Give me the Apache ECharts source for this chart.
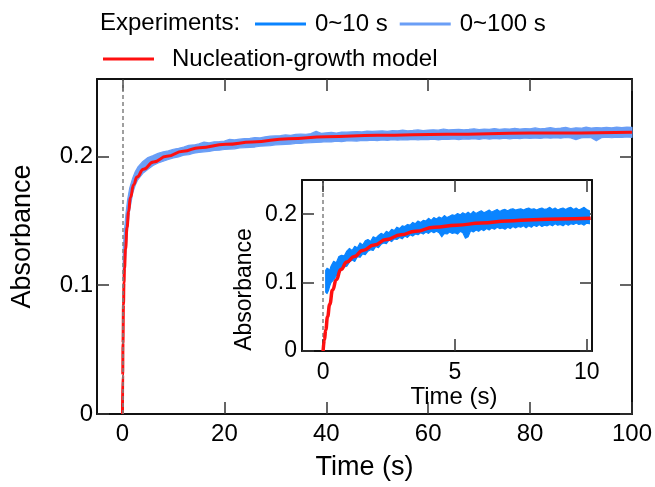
<!DOCTYPE html>
<html><head><meta charset="utf-8">
<script src="https://cdn.jsdelivr.net/npm/echarts@6/dist/echarts.min.js"></script>
<style>html,body{margin:0;padding:0;background:#fff}#c{width:655px;height:487px}</style>
</head><body><div id="c"></div>
<script>
// ---------- data ----------
const mainXTicks = [0, 20, 40, 60, 80, 100];
const mainYTicks = [0, 0.1, 0.2];
const insetXTicks = [0, 5, 10];
const insetYTicks = [0, 0.1, 0.2];

// Nucleation-growth model, 0~100 s
const mainModelT = [0, 0.05, 0.1, 0.2, 0.3, 0.4, 0.6, 0.9, 1.2, 1.55, 2.2, 2.85, 4.1, 6.1, 8.7, 11.9, 15.1, 20.3, 25.5, 32.6, 40, 50, 63.7, 80, 100];
const mainModelA = [0, 0.03, 0.055, 0.085, 0.102, 0.113, 0.128, 0.145, 0.157, 0.168, 0.178, 0.184, 0.190, 0.1956, 0.200, 0.204, 0.2067, 0.2093, 0.2111, 0.2137, 0.2152, 0.2163, 0.2172, 0.2180, 0.2187];

// Experiment 0~100 s (noise band: lower / upper envelope)
const mainExpT = [0.15, 0.4, 0.7, 1, 1.4, 2, 2.5, 3, 4, 5, 6, 7, 8, 9, 10,
  11, 12, 13, 14, 15, 16, 17, 18, 19, 20, 21, 22, 23, 24, 25, 26, 27, 28, 29, 30,
  31, 32, 33, 34, 35, 36, 37, 38, 39, 40, 41, 42, 43, 44, 45, 46, 47, 48, 49, 50,
  51, 52, 53, 54, 55, 56, 57, 58, 59, 60, 61, 62, 63, 64, 65, 66, 67, 68, 69, 70,
  71, 72, 73, 74, 75, 76, 77, 78, 79, 80, 81, 82, 83, 84, 85, 86, 87, 88, 89, 90,
  91, 92, 93, 94, 95, 96, 97, 98, 99, 100];
const mainExpHigh = [0.128, 0.143, 0.156, 0.166, 0.175, 0.183, 0.188, 0.1915, 0.196, 0.199, 0.2005, 0.2023, 0.2035, 0.2042, 0.2055,
  0.2062, 0.2071, 0.2085, 0.2088, 0.2096, 0.2110, 0.2104, 0.2113, 0.2115, 0.2119,
  0.2131, 0.2128, 0.2133, 0.2138, 0.2139, 0.2146, 0.2143, 0.2151, 0.2156, 0.2158,
  0.2160, 0.2166, 0.2163, 0.2170, 0.2172, 0.2171, 0.2176, 0.2195, 0.2178, 0.2182,
  0.2185, 0.2181, 0.2188, 0.2187, 0.2190, 0.2192, 0.2189, 0.2196, 0.2193, 0.2195,
  0.2197, 0.2193, 0.2199, 0.2198, 0.2203, 0.2198, 0.2201, 0.2205, 0.2200, 0.2204,
  0.2206, 0.2203, 0.2212, 0.2205, 0.2208, 0.2210, 0.2206, 0.2209, 0.2214, 0.2207,
  0.2211, 0.2209, 0.2216, 0.2210, 0.2214, 0.2212, 0.2218, 0.2211, 0.2215, 0.2213,
  0.2220, 0.2214, 0.2217, 0.2222, 0.2215, 0.2219, 0.2224, 0.2216, 0.2221, 0.2218,
  0.2226, 0.2219, 0.2223, 0.2220, 0.2225, 0.2221, 0.2227, 0.2222, 0.2226, 0.2224];
const mainExpLow = [0.105, 0.108, 0.127, 0.143, 0.158, 0.1715, 0.1775, 0.1818, 0.1868, 0.1900, 0.1928, 0.1948, 0.1962, 0.1975, 0.1988,
  0.1995, 0.2008, 0.2012, 0.2024, 0.2030, 0.2035, 0.2038, 0.2046, 0.2047, 0.2053,
  0.2056, 0.2058, 0.2066, 0.2067, 0.2070, 0.2072, 0.2078, 0.2080, 0.2083, 0.2089,
  0.2090, 0.2093, 0.2095, 0.2101, 0.2100, 0.2105, 0.2106, 0.2108, 0.2110, 0.2114,
  0.2112, 0.2117, 0.2114, 0.2119, 0.2120, 0.2118, 0.2124, 0.2121, 0.2125, 0.2122,
  0.2127, 0.2124, 0.2129, 0.2126, 0.2130, 0.2127, 0.2131, 0.2128, 0.2132, 0.2129,
  0.2133, 0.2127, 0.2134, 0.2131, 0.2135, 0.2130, 0.2136, 0.2133, 0.2137, 0.2132,
  0.2138, 0.2134, 0.2139, 0.2135, 0.2140, 0.2136, 0.2141, 0.2137, 0.2142, 0.2138,
  0.2143, 0.2139, 0.2144, 0.2140, 0.2145, 0.2141, 0.2146, 0.2142, 0.2130, 0.2143,
  0.2147, 0.2144, 0.2120, 0.2145, 0.2148, 0.2144, 0.2149, 0.2146, 0.2150, 0.2147];

// Nucleation-growth model, inset 0~10 s
const insetModelT = [0, 0.05, 0.1, 0.17, 0.25, 0.36, 0.5, 0.67, 0.9, 1.18, 1.5, 1.94, 2.4, 2.95, 3.5, 4.22, 5.06, 6, 7, 7.97, 9, 10.15];
const insetModelA = [0, 0.016, 0.031, 0.05, 0.068, 0.089, 0.104, 0.119, 0.13, 0.138, 0.147, 0.155, 0.163, 0.170, 0.175, 0.181, 0.184, 0.187, 0.190, 0.192, 0.193, 0.194];

// Experiment 0~10 s (noise band: lower / upper envelope)
const insetExpT = [0.1, 0.15, 0.2, 0.25, 0.3,
  0.4, 0.5, 0.6, 0.7, 0.8, 0.9,
  1.0, 1.1, 1.2, 1.3, 1.4, 1.5, 1.6, 1.7, 1.8, 1.9,
  2.0, 2.1, 2.2, 2.3, 2.4, 2.5, 2.6, 2.7, 2.8, 2.9,
  3.0, 3.1, 3.2, 3.3, 3.4, 3.5, 3.6, 3.7, 3.8, 3.9,
  4.0, 4.1, 4.2, 4.3, 4.4, 4.5, 4.6, 4.7, 4.8, 4.9,
  5.0, 5.1, 5.2, 5.3, 5.4, 5.5, 5.6, 5.7, 5.8, 5.9,
  6.0, 6.1, 6.2, 6.3, 6.4, 6.5, 6.6, 6.7, 6.8, 6.9,
  7.0, 7.1, 7.2, 7.3, 7.4, 7.5, 7.6, 7.7, 7.8, 7.9,
  8.0, 8.1, 8.2, 8.3, 8.4, 8.5, 8.6, 8.7, 8.8, 8.9,
  9.0, 9.1, 9.2, 9.3, 9.4, 9.5, 9.6, 9.7, 9.8, 9.9,
  10.0, 10.1];
const insetExpHigh = [0.118, 0.121, 0.120, 0.117, 0.124,
  0.131, 0.129, 0.138, 0.140, 0.139, 0.146,
  0.150, 0.147, 0.153, 0.151, 0.158, 0.155, 0.161, 0.163, 0.160, 0.167,
  0.165, 0.169, 0.172, 0.170, 0.175, 0.173, 0.178, 0.176, 0.181, 0.179,
  0.183, 0.182, 0.185, 0.184, 0.188, 0.186, 0.190, 0.188, 0.191, 0.190,
  0.194, 0.191, 0.195, 0.193, 0.196, 0.194, 0.198, 0.195, 0.197, 0.199,
  0.198, 0.201, 0.199, 0.202, 0.200, 0.203, 0.200, 0.204, 0.201, 0.203,
  0.205, 0.202, 0.204, 0.206, 0.203, 0.205, 0.207, 0.204, 0.206, 0.207,
  0.205, 0.207, 0.208, 0.206, 0.207, 0.208, 0.206, 0.208, 0.209, 0.207,
  0.208, 0.206, 0.208, 0.209, 0.207, 0.208, 0.210, 0.207, 0.209, 0.206,
  0.208, 0.209, 0.207, 0.209, 0.210, 0.207, 0.209, 0.206, 0.208, 0.210,
  0.207, 0.205];
const insetExpLow = [0.086, 0.084, 0.088, 0.095, 0.100,
  0.104, 0.110, 0.113, 0.119, 0.123, 0.124,
  0.130, 0.133, 0.131, 0.138, 0.137, 0.142, 0.141, 0.146, 0.148, 0.147,
  0.153, 0.151, 0.156, 0.158, 0.157, 0.162, 0.160, 0.164, 0.163, 0.166,
  0.164, 0.168, 0.166, 0.170, 0.168, 0.171, 0.170, 0.173, 0.171, 0.174,
  0.172, 0.175, 0.173, 0.175, 0.173, 0.167, 0.172, 0.171, 0.174, 0.172,
  0.173, 0.171, 0.175, 0.173, 0.165, 0.167, 0.176, 0.174, 0.177, 0.175,
  0.178, 0.176, 0.179, 0.177, 0.180, 0.178, 0.181, 0.179, 0.180, 0.178,
  0.181, 0.179, 0.182, 0.180, 0.182, 0.181, 0.183, 0.180, 0.183, 0.181,
  0.184, 0.182, 0.185, 0.182, 0.184, 0.183, 0.185, 0.183, 0.186, 0.184,
  0.185, 0.183, 0.186, 0.184, 0.186, 0.185, 0.187, 0.185, 0.186, 0.184,
  0.187, 0.186];

// ---------- styling ----------
const FONT = '"Liberation Sans", Arial, Helvetica, sans-serif';
const C10 = '#0a84ff';
const C100 = '#6a9ef6';
const RED = '#ff1010';
const AX = '#111';

const pairs = (xs, ys) => xs.map((x, i) => [x, ys[i]]);
const yFmt = v => (v === 0 ? '0' : v.toFixed(1));

function xAxisDef(grid, pos, min, max, ticks, opts) {
  return {
    type: 'value', gridIndex: grid, position: pos, min: min, max: max,
    splitLine: { show: false },
    axisLine: { show: true, onZero: false, lineStyle: { color: AX, width: 2 } },
    axisTick: { show: true, inside: true, length: 12, customValues: ticks, lineStyle: { color: '#333', width: 1.5 } },
    axisLabel: opts.label ? { show: true, customValues: ticks, fontSize: opts.fs, margin: opts.margin, color: '#000', fontFamily: FONT } : { show: false },
    name: opts.name || '', nameLocation: 'middle', nameGap: opts.nameGap || 0,
    nameTextStyle: { fontSize: opts.nfs || 12, color: '#000', fontFamily: FONT, padding: opts.npad || 0 }
  };
}
function yAxisDef(grid, pos, min, max, ticks, opts) {
  return {
    type: 'value', gridIndex: grid, position: pos, min: min, max: max,
    splitLine: { show: false },
    axisLine: { show: true, onZero: false, lineStyle: { color: AX, width: 2 } },
    axisTick: { show: true, inside: true, length: 12, customValues: ticks, lineStyle: { color: '#333', width: 1.5 } },
    axisLabel: opts.label ? { show: true, customValues: ticks, formatter: yFmt, fontSize: opts.fs, margin: opts.margin, color: '#000', fontFamily: FONT } : { show: false },
    name: opts.name || '', nameLocation: 'middle', nameGap: opts.nameGap || 0,
    nameTextStyle: { fontSize: opts.nfs || 12, color: '#000', fontFamily: FONT, padding: opts.npad || 0 }
  };
}

// vertical dashed reference line at t = 0
function zeroLine(xi, yi, z) {
  return {
    type: 'line', name: 'zero' + xi, xAxisIndex: xi, yAxisIndex: yi, data: [], silent: true, z: z,
    markLine: {
      silent: true, symbol: ['none', 'none'], label: { show: false },
      lineStyle: { type: [4, 3], color: '#808080', width: 1.5 },
      emphasis: { disabled: true },
      data: [{ xAxis: 0 }]
    }
  };
}

// noisy experimental trace drawn as a band between lower and upper envelopes
function bandSeries(xi, yi, T, lo, hi, color, name, z) {
  return {
    type: 'custom', name: name, xAxisIndex: xi, yAxisIndex: yi, z: z, silent: true,
    itemStyle: { color: color },
    data: T.map((t, i) => [t, lo[i], hi[i]]),
    encode: { x: 0, y: [1, 2] },
    renderItem: function (params, api) {
      if (params.dataIndex !== 0) return null;
      const pts = [];
      for (let i = 0; i < T.length; i++) pts.push(api.coord([T[i], hi[i]]));
      for (let i = T.length - 1; i >= 0; i--) pts.push(api.coord([T[i], lo[i]]));
      return { type: 'polygon', shape: { points: pts }, style: { fill: color, stroke: color, lineWidth: 1.2, lineJoin: 'round' } };
    }
  };
}

const chart = echarts.init(document.getElementById('c'), null, { renderer: 'canvas' });
chart.setOption({
  animation: false,
  backgroundColor: '#fff',
  grid: [
    { left: 97, top: 79, width: 536, height: 335, show: false },
    { left: 302, top: 180, width: 290, height: 171, show: true, backgroundColor: '#fff', borderWidth: 0, z: 5 }
  ],
  xAxis: [
    xAxisDef(0, 'bottom', -5, 100, mainXTicks, { label: true, fs: 24, margin: 8, name: 'Time (s)', nfs: 27, nameGap: 40 }),
    xAxisDef(0, 'top', -5, 100, mainXTicks, { label: false }),
    Object.assign(xAxisDef(1, 'bottom', -0.8, 10.2, insetXTicks, { label: true, fs: 23, margin: 10, name: 'Time (s)', nfs: 24, nameGap: 31, npad: [0, 0, 0, 14] }), { z: 6 }),
    Object.assign(xAxisDef(1, 'top', -0.8, 10.2, insetXTicks, { label: false }), { z: 6 })
  ],
  yAxis: [
    yAxisDef(0, 'left', 0, 0.26, mainYTicks, { label: true, fs: 24, margin: 4, name: 'Absorbance', nfs: 27, nameGap: 61, npad: [0, 0, 0, 20] }),
    yAxisDef(0, 'right', 0, 0.26, mainYTicks, { label: false }),
    Object.assign(yAxisDef(1, 'left', 0, 0.25, insetYTicks, { label: true, fs: 23, margin: 5, name: 'Absorbance', nfs: 23, nameGap: 46, npad: [0, 48, 0, 0] }), { z: 6 }),
    Object.assign(yAxisDef(1, 'right', 0, 0.25, insetYTicks, { label: false }), { z: 6 })
  ],
  legend: [
    { left: 250, top: 7, padding: 5, itemWidth: 51, itemHeight: 3, itemGap: 12, icon: 'rect', selectedMode: false,
      textStyle: { fontSize: 24, color: '#000', fontFamily: FONT, padding: [0, 0, 0, 4] },
      data: [{ name: '0~10 s', itemStyle: { color: C10 } }, { name: '0~100 s', itemStyle: { color: C100 } }] },
    { left: 98, top: 42, padding: 5, itemWidth: 51, itemHeight: 3, icon: 'rect', selectedMode: false,
      textStyle: { fontSize: 24, color: '#000', fontFamily: FONT, padding: [0, 0, 0, 13] },
      data: [{ name: 'Nucleation-growth model', itemStyle: { color: RED } }] }
  ],
  graphic: [
    { type: 'text', left: 100, top: 11, style: { text: 'Experiments:', fontSize: 24, fontFamily: FONT, fill: '#000' } }
  ],
  series: [
    zeroLine(0, 0, 1),
    bandSeries(0, 0, mainExpT, mainExpLow, mainExpHigh, C100, '0~100 s', 2),
    { type: 'line', name: 'Nucleation-growth model', xAxisIndex: 0, yAxisIndex: 0,
      data: pairs(mainModelT, mainModelA), symbol: 'none', smooth: 0.5, smoothMonotone: 'x', silent: true,
      lineStyle: { color: RED, width: 3 }, itemStyle: { color: RED }, z: 4 },
    zeroLine(2, 2, 6),
    bandSeries(2, 2, insetExpT, insetExpLow, insetExpHigh, C10, '0~10 s', 7),
    { type: 'line', name: 'Nucleation-growth model', xAxisIndex: 2, yAxisIndex: 2,
      data: pairs(insetModelT, insetModelA), symbol: 'none', smooth: 0.5, smoothMonotone: 'x', silent: true,
      lineStyle: { color: RED, width: 3.5 }, itemStyle: { color: RED }, z: 9 }
  ]
});
</script>
</body></html>
